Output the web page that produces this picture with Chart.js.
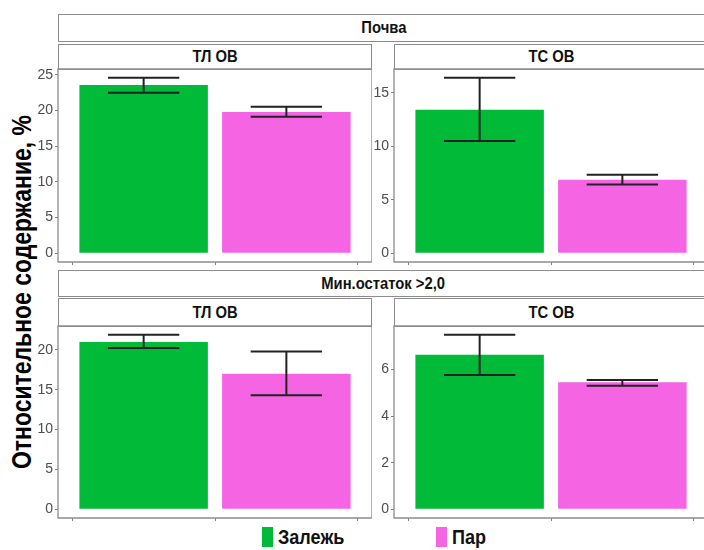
<!DOCTYPE html>
<html>
<head>
<meta charset="utf-8">
<script src="https://cdn.jsdelivr.net/npm/chart.js@4.4.1/dist/chart.umd.min.js"></script>
<style>
  html, body { margin: 0; padding: 0; background: #fff; }
  #page { position: relative; width: 704px; height: 550px; overflow: hidden; background: #fff; }
  .pos { position: absolute; }
  .strip {
    position: absolute; box-sizing: border-box; border: 1.3px solid #8c8c8c; background: #fff;
    display: flex; align-items: center; justify-content: center;
  }
  .strip.open { border-right: none; }
  .strip span, .legend span, .ytitle {
    font-family: "Liberation Sans", Arial, sans-serif; font-weight: bold; color: #111; white-space: nowrap;
  }
  .strip span { font-size: 17px; transform: scaleX(0.87); }
  .legend { position: absolute; display: flex; align-items: center; }
  .legend i { display: block; width: 11px; height: 20px; margin-right: 5px; }
  .legend span { font-size: 21px; transform: scaleX(0.86); transform-origin: left center; }
  .ytitle {
    position: absolute; left: 22px; top: 292px; font-size: 27px; color: #000;
    transform: translate(-50%, -50%) rotate(-90deg) scaleX(0.85);
  }
</style>
</head>
<body>
<div id="page"></div>
<script>
// Facets and series
const facetRows = ['Почва', 'Мин.остаток >2,0'];
const facetCols = ['ТЛ ОВ', 'ТС ОВ'];
const seriesNames = ['Залежь', 'Пар'];
const seriesColors = ['#00BA38', '#F564E3'];
const yAxisTitle = 'Относительное содержание, %';

// Panel order: Почва/ТЛ ОВ, Почва/ТС ОВ, Мин.остаток/ТЛ ОВ, Мин.остаток/ТС ОВ
const zalezhMean = [23.6, 13.4, 21.0, 6.64];
const zalezhLow  = [22.5, 10.5, 20.25, 5.77];
const zalezhHigh = [24.6, 16.4, 21.9, 7.5];
const parMean = [19.8, 6.87, 17.0, 5.46];
const parLow  = [19.15, 6.43, 14.3, 5.31];
const parHigh = [20.55, 7.33, 19.8, 5.56];

// Y tick labels per panel
const yTickValues = [
  [0, 5, 10, 15, 20, 25],
  [0, 5, 10, 15],
  [0, 5, 10, 15, 20],
  [0, 2, 4, 6]
];

// Page layout (pixels); the right column runs past the page edge
const colLeft = [58, 394];
const plotW = 314;
const rowTop = [69, 326];
const plotH = [193, 192];
const outerStripTop = [14, 270];
const outerStripH = [28, 27];
const innerStripTop = [44, 298];
const AXIS_W = 26, AXIS_H = 6, PAD_T = 10;

const page = document.getElementById('page');

function el(cls, css, html) {
  const d = document.createElement('div');
  d.className = cls;
  Object.assign(d.style, css);
  if (html !== undefined) d.innerHTML = html;
  page.appendChild(d);
  return d;
}

// Facet strips
facetRows.forEach((label, r) => {
  el('strip open', {
    left: colLeft[0] + 'px', top: outerStripTop[r] + 'px',
    width: (colLeft[1] + plotW - colLeft[0]) + 'px', height: outerStripH[r] + 'px'
  }, '<span>' + label + '</span>');
  facetCols.forEach((sub, c) => {
    el(c === 1 ? 'strip open' : 'strip', {
      left: colLeft[c] + 'px', top: innerStripTop[r] + 'px',
      width: plotW + 'px', height: (rowTop[r] - innerStripTop[r] + 1) + 'px'
    }, '<span>' + sub + '</span>');
  });
});

// Axis title
el('ytitle', {}, yAxisTitle);

// Legend
const legendX = [262, 436];
seriesNames.forEach((name, i) => {
  el('legend', { left: legendX[i] + 'px', top: '527px', height: '20px' },
     '<i style="background:' + seriesColors[i] + '"></i><span>' + name + '</span>');
});

// Panel frame drawn around the plotting area (right side omitted when it is off the page)
const panelFrame = {
  id: 'panelFrame',
  afterDraw(chart, args, opts) {
    const { ctx, chartArea: a } = chart;
    ctx.save();
    ctx.strokeStyle = '#8c8c8c';
    ctx.lineWidth = 1.3;
    ctx.beginPath();
    if (opts.openRight) {
      ctx.moveTo(a.right, a.top); ctx.lineTo(a.left, a.top);
      ctx.lineTo(a.left, a.bottom); ctx.lineTo(a.right, a.bottom);
    } else {
      ctx.rect(a.left, a.top, a.width, a.height);
    }
    ctx.stroke();
    ctx.restore();
  }
};

// Error bars: vertical whisker with caps half a category unit wide
const errorBars = {
  id: 'errorBars',
  afterDatasetsDraw(chart, args, opts) {
    const { ctx, scales: { x, y } } = chart;
    ctx.save();
    ctx.strokeStyle = opts.color;
    ctx.lineWidth = opts.width;
    opts.low.forEach((lo, i) => {
      const hi = opts.high[i];
      const cx = x.getPixelForValue(i + 1);
      const x0 = x.getPixelForValue(i + 1 - 0.25);
      const x1 = x.getPixelForValue(i + 1 + 0.25);
      const y0 = y.getPixelForValue(lo);
      const y1 = y.getPixelForValue(hi);
      ctx.beginPath();
      ctx.moveTo(cx, y0); ctx.lineTo(cx, y1);
      ctx.moveTo(x0, y0); ctx.lineTo(x1, y0);
      ctx.moveTo(x0, y1); ctx.lineTo(x1, y1);
      ctx.stroke();
    });
    ctx.restore();
  }
};

for (let p = 0; p < 4; p++) {
  const r = p >> 1, c = p & 1;
  const w = AXIS_W + plotW, h = PAD_T + plotH[r] + AXIS_H;
  const box = el('pos', {
    left: (colLeft[c] - AXIS_W) + 'px', top: (rowTop[r] - PAD_T) + 'px',
    width: w + 'px', height: h + 'px'
  });
  const cv = document.createElement('canvas');
  cv.width = w; cv.height = h;
  cv.style.width = w + 'px'; cv.style.height = h + 'px';
  box.appendChild(cv);

  const top = Math.max(zalezhHigh[p], parHigh[p]);
  const means = [zalezhMean[p], parMean[p]];

  new Chart(cv, {
    type: 'bar',
    data: {
      datasets: seriesNames.map((name, i) => ({
        label: name,
        data: [{ x: i + 1, y: means[i] }],
        backgroundColor: seriesColors[i],
        borderWidth: 0
      }))
    },
    options: {
      responsive: false,
      devicePixelRatio: 1,
      animation: false,
      grouped: false,
      categoryPercentage: 1,
      barPercentage: 0.9,
      layout: { padding: { top: PAD_T, left: 0, right: 0, bottom: 0 } },
      plugins: {
        legend: { display: false },
        tooltip: { enabled: false },
        panelFrame: { openRight: c === 1 },
        errorBars: {
          low: [zalezhLow[p], parLow[p]],
          high: [zalezhHigh[p], parHigh[p]],
          color: '#222', width: 2
        }
      },
      scales: {
        x: {
          type: 'linear', min: 0.4, max: 2.6, offset: false,
          afterBuildTicks: s => { s.ticks = [{ value: 1 }, { value: 2 }]; },
          afterFit: s => { s.height = AXIS_H; s.paddingLeft = 0; s.paddingRight = 0; },
          grid: { drawOnChartArea: false, tickLength: 3, color: '#7f7f7f' },
          border: { display: false },
          ticks: { callback: () => '', padding: 0 }
        },
        y: {
          type: 'linear', min: -0.05 * top, max: 1.05 * top,
          afterBuildTicks: s => { s.ticks = yTickValues[p].map(v => ({ value: v })); },
          afterFit: s => { s.width = AXIS_W; s.paddingTop = 0; s.paddingBottom = 0; },
          grid: { drawOnChartArea: false, tickLength: 3, color: '#7f7f7f' },
          border: { display: false },
          ticks: {
            color: '#4d4d4d', padding: 2,
            font: { family: '"Liberation Sans", Arial, sans-serif', size: 14 },
            callback: v => String(v)
          }
        }
      }
    },
    plugins: [panelFrame, errorBars]
  });
}
</script>
</body>
</html>
